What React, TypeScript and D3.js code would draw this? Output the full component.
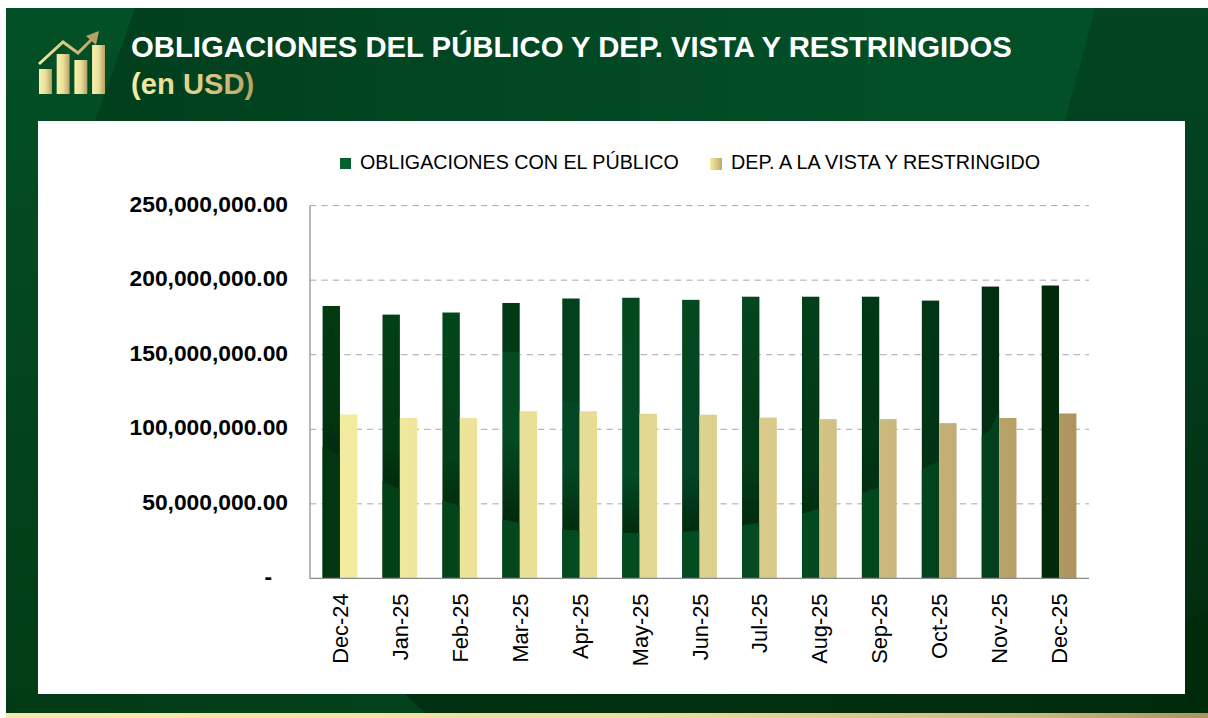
import React from "react";
import * as d3 from "d3";

const categories = ["Dec-24","Jan-25","Feb-25","Mar-25","Apr-25","May-25","Jun-25","Jul-25","Aug-25","Sep-25","Oct-25","Nov-25","Dec-25"];
const obligaciones = [182.7,176.9,178.3,184.7,187.7,188.2,186.8,188.9,188.9,188.9,186.3,195.7,196.4].map(v => v * 1e6);
const depositos = [109.9,107.6,107.6,112.1,112.1,110.4,109.8,107.8,106.8,106.8,104.1,107.6,110.6].map(v => v * 1e6);
const yTicks = [0, 50e6, 100e6, 150e6, 200e6, 250e6];
const legendLabels = ["OBLIGACIONES CON EL PÚBLICO", "DEP. A LA VISTA Y RESTRINGIDO"];

// Level (in USD) at which the slide's background texture shows a seam through each green bar
const seamLow = [86,62.5,50.5,38.4,32.4,30.4,31.7,36.4,45.1,59.2,75.9,99.4,null].map(v => v === null ? null : v * 1e6);
const seamHigh = [null,null,null,152,118,null,null,null,null,null,null,null,null].map(v => v === null ? null : v * 1e6);
const shadeTop = ["#013a10","#024016","#03461c","#023a16","#03401c","#04481f","#044820","#04461e","#03401a","#013815","#023616","#022f14","#01290a"];
const shadeMid = ["#023610","#023a14","#034019","#034a21","#034724","#044a24","#034424","#033c16","#023a18","#023615","#023416","#022f14","#01290a"];
const shadeEnd = ["#012d0d","#012b0e","#012f0d","#01290c","#012c0d","#012c0d","#012b0e","#012b0e","#01300f","#013012","#023014","#022f14","#01290a"];

const iconBars = [25, 40, 34, 49];
const iconLine = [[0, 30], [24, 52], [39, 41], [58, 60]];

const fmt = d3.format(",.2f");
const FONT = "'Liberation Sans', Arial, sans-serif";

export default function App() {
  const x = d3.scaleBand<string>().domain(categories).range([310, 1089]).paddingInner(0.42).paddingOuter(0.21);
  const inner = d3.scaleBand<string>().domain(["a", "b"]).range([0, x.bandwidth()]);
  const y = d3.scaleLinear().domain([0, 250e6]).range([578.4, 205.6]);
  const bw = inner.bandwidth();

  const seamPts = categories.map((c, i) => ({ c, v: seamLow[i] })).filter(d => d.v !== null);
  const firstX = (x(categories[0]) as number) - 6;
  const lastX = (x(categories[11]) as number) + bw + 1;
  const lineGen = d3.line<{ c: string; v: number | null }>()
    .x(d => (x(d.c) as number) + bw / 2)
    .y(d => y(d.v as number))
    .curve(d3.curveCatmullRom);
  const topEdge = (lineGen(seamPts as any) as string).slice(1);
  const lowPath = `M${firstX},${y(0)}L${firstX},${y(seamLow[0]! + 4e6)}L${topEdge}L${lastX},${y(seamLow[11]! + 14e6)}L${lastX},${y(0)}Z`;

  const iconX = d3.scaleBand<number>().domain([0, 1, 2, 3]).range([39, 105]).paddingInner(0.27);
  const iconY = d3.scaleLinear().domain([0, 60]).range([94, 34]);
  const arrow = d3.line().x(d => 39 + d[0]).y(d => iconY(d[1]))(iconLine as any) as string;

  return (
    <svg width={1208} height={718} style={{ position: "fixed", left: 0, top: 0, display: "block" }} fontFamily={FONT}>
      <defs>
        <linearGradient id="bgBase" x1="0" y1="0" x2="0" y2="1">
          <stop offset="0" stopColor="#024522" />
          <stop offset="0.45" stopColor="#023c1d" />
          <stop offset="0.85" stopColor="#012e0f" />
          <stop offset="1" stopColor="#012a0b" />
        </linearGradient>
        <linearGradient id="bgTop" gradientUnits="userSpaceOnUse" x1="100" y1="0" x2="1080" y2="0">
          <stop offset="0" stopColor="#013f1d" />
          <stop offset="0.4" stopColor="#014723" />
          <stop offset="0.8" stopColor="#024e27" />
          <stop offset="1" stopColor="#025028" />
        </linearGradient>
        <linearGradient id="bgLeft" x1="0" y1="0" x2="0" y2="1">
          <stop offset="0" stopColor="#035027" />
          <stop offset="0.5" stopColor="#02451e" />
          <stop offset="1" stopColor="#023c17" />
        </linearGradient>
        <linearGradient id="bgBottom" x1="0" y1="0" x2="1" y2="0">
          <stop offset="0" stopColor="#023a16" />
          <stop offset="1" stopColor="#02421a" />
        </linearGradient>
        <linearGradient id="bgStrip" x1="0" y1="0" x2="1" y2="0">
          <stop offset="0" stopColor="#012d0f" />
          <stop offset="0.6" stopColor="#023011" />
          <stop offset="1" stopColor="#012a0b" />
        </linearGradient>
        <linearGradient id="goldStrip" x1="0" y1="0" x2="1" y2="0">
          <stop offset="0" stopColor="#f6eca8" />
          <stop offset="0.55" stopColor="#ecdd97" />
          <stop offset="0.85" stopColor="#cdb878" />
          <stop offset="1" stopColor="#ad925c" />
        </linearGradient>
        <linearGradient id="goldBars" gradientUnits="userSpaceOnUse" x1="340" y1="0" x2="1076" y2="0">
          <stop offset="0" stopColor="#f3eb9f" />
          <stop offset="0.35" stopColor="#e6dc95" />
          <stop offset="0.6" stopColor="#d8c988" />
          <stop offset="0.8" stopColor="#c6b278" />
          <stop offset="1" stopColor="#ae935e" />
        </linearGradient>
        <linearGradient id="lowGreen" gradientUnits="userSpaceOnUse" x1="323" y1="0" x2="1010" y2="0">
          <stop offset="0" stopColor="#013510" />
          <stop offset="0.15" stopColor="#03441a" />
          <stop offset="0.4" stopColor="#034c20" />
          <stop offset="0.7" stopColor="#034a20" />
          <stop offset="1" stopColor="#02401b" />
        </linearGradient>
        <linearGradient id="goldTile" x1="0" y1="0" x2="1" y2="0">
          <stop offset="0" stopColor="#f4eda2" />
          <stop offset="1" stopColor="#bfa970" />
        </linearGradient>
        <linearGradient id="goldIcon" x1="0" y1="0" x2="1" y2="0">
          <stop offset="0" stopColor="#f8f0ac" />
          <stop offset="0.5" stopColor="#eadf9a" />
          <stop offset="1" stopColor="#b8a066" />
        </linearGradient>
        <linearGradient id="goldArrow" gradientUnits="userSpaceOnUse" x1="39" y1="0" x2="100" y2="0">
          <stop offset="0" stopColor="#f3e8a0" />
          <stop offset="1" stopColor="#b59d63" />
        </linearGradient>
        <linearGradient id="goldText" gradientUnits="userSpaceOnUse" x1="131" y1="0" x2="254" y2="0">
          <stop offset="0" stopColor="#f7eda6" />
          <stop offset="0.6" stopColor="#dccb88" />
          <stop offset="1" stopColor="#b8a066" />
        </linearGradient>
        {categories.map((c, i) => {
          const top = y(obligaciones[i]);
          const low = seamLow[i] === null ? y(0) : y(seamLow[i] as number);
          const hi = seamHigh[i];
          const seamOff = hi === null ? 0 : (y(hi) - top) / (low - top);
          return (
            <linearGradient key={c} id={`green${i}`} gradientUnits="userSpaceOnUse" x1="0" x2="0" y1={top} y2={low}>
              <stop offset="0" stopColor={shadeTop[i]} />
              {hi !== null ? <stop offset={seamOff} stopColor={shadeTop[i]} /> : null}
              <stop offset={hi !== null ? seamOff : 0.55} stopColor={shadeMid[i]} />
              <stop offset={hi !== null ? seamOff + (1 - seamOff) * 0.5 : 0.75} stopColor={shadeMid[i]} />
              <stop offset="1" stopColor={shadeEnd[i]} />
            </linearGradient>
          );
        })}
        <clipPath id="greenClip">
          {categories.map((c, i) => (
            <rect key={c} x={(x(c) as number) + (inner("a") as number)} y={y(obligaciones[i])} width={bw} height={y(0) - y(obligaciones[i])} />
          ))}
        </clipPath>
      </defs>

      {/* slide background */}
      <rect x={6} y={8} width={1202} height={710} fill="url(#bgBase)" />
      <polygon points="135,8 1095,8 1065,121 95,121" fill="url(#bgTop)" />
      <polygon points="6,8 135,8 95,121 38,121 38,694 6,713" fill="url(#bgLeft)" />
      <rect x={6} y={694} width={1202} height={19} fill="url(#bgStrip)" />
      <polygon points="6,694 405,694 425,713 6,713" fill="url(#bgBottom)" />
      <polygon points="1185,622 1208,610 1208,713 1185,713" fill="#012a0b" />
      <rect x={6} y={713} width={1202} height={5} fill="url(#goldStrip)" />

      {/* icon */}
      {iconBars.map((h, i) => (
        <rect key={i} x={iconX(i)} y={iconY(h)} width={iconX.bandwidth()} height={iconY(0) - iconY(h)} fill="url(#goldIcon)" />
      ))}
      <path d={arrow} fill="none" stroke="url(#goldArrow)" strokeWidth={3} />
      <polygon points="99,31 86,36 96,45" fill="#b9a166" />

      {/* titles */}
      <text x={131} y={57} fontSize={29.3} fontWeight={700} fill="#ffffff">OBLIGACIONES DEL PÚBLICO Y DEP. VISTA Y RESTRINGIDOS</text>
      <text x={131} y={94} fontSize={29.2} fontWeight={700} fill="url(#goldText)">(en USD)</text>

      {/* white panel */}
      <rect x={38} y={121} width={1147} height={573} fill="#ffffff" />

      {/* legend */}
      <rect x={340} y={158} width={11} height={11} fill="#05602f" />
      <text x={360} y={168.5} fontSize={19.7} fill="#000">{legendLabels[0]}</text>
      <rect x={710} y={158} width={12} height={12} fill="url(#goldTile)" />
      <text x={731} y={168.5} fontSize={19.75} fill="#000">{legendLabels[1]}</text>

      {/* grid */}
      {yTicks.filter(t => t > 0).map(t => (
        <line key={t} x1={310} x2={1089} y1={y(t)} y2={y(t)} stroke="#a8a8a8" strokeWidth={1} strokeDasharray="6.4 5" />
      ))}

      {/* bars */}
      {categories.map((c, i) => (
        <rect key={c} x={(x(c) as number) + (inner("a") as number)} y={y(obligaciones[i])} width={bw} height={y(0) - y(obligaciones[i])} fill={`url(#green${i})`} />
      ))}
      <g clipPath="url(#greenClip)">
        <path d={lowPath} fill="url(#lowGreen)" />
      </g>
      {categories.map((c, i) => (
        <rect key={c} x={(x(c) as number) + (inner("b") as number)} y={y(depositos[i])} width={bw} height={y(0) - y(depositos[i])} fill="url(#goldBars)" />
      ))}

      {/* axes */}
      <line x1={310} x2={310} y1={y(250e6)} y2={y(0)} stroke="#8a8a8a" strokeWidth={1.2} />
      <line x1={310} x2={1089} y1={y(0)} y2={y(0)} stroke="#8a8a8a" strokeWidth={1.2} />
      {yTicks.map(t => (
        t === 0
          ? <text key={t} x={272} y={y(t) + 6} textAnchor="end" fontSize={22.8} fontWeight={700} fill="#000">-</text>
          : <text key={t} x={288} y={y(t) + 6} textAnchor="end" fontSize={22.8} fontWeight={700} fill="#000">{fmt(t)}</text>
      ))}
      {categories.map(c => {
        const cx = (x(c) as number) + x.bandwidth() / 2;
        return (
          <text key={c} transform={`translate(${cx + 8},593.5) rotate(-90)`} textAnchor="end" fontSize={21.8} fill="#000">{c}</text>
        );
      })}
    </svg>
  );
}
